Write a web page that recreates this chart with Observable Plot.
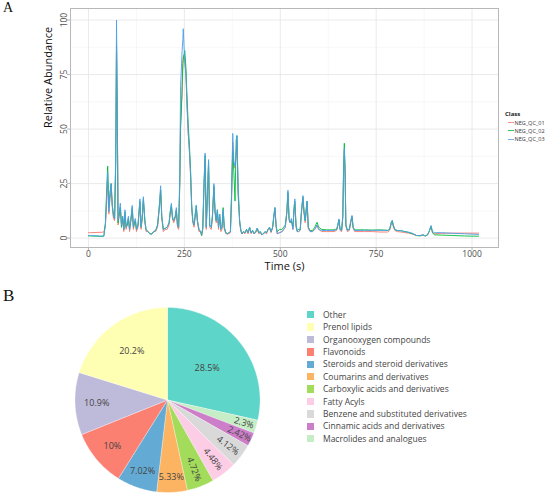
<!DOCTYPE html>
<html><head><meta charset="utf-8">
<script src="https://cdn.jsdelivr.net/npm/d3@7"></script>
<script src="https://cdn.jsdelivr.net/npm/@observablehq/plot@0.6"></script>
<style>
body{margin:0;background:#fff;}
#wrap{position:relative;width:550px;height:495px;overflow:hidden;font-family:"Open Sans",sans-serif;background:#fff;}
#wrap svg{position:absolute;left:0;}
.abs{position:absolute;white-space:nowrap;}
</style></head><body><div id="wrap"></div>
<script>
// ---------- Panel A data ----------
const classNames = ["NEG_QC_01", "NEG_QC_02", "NEG_QC_03"];
const classColors = ["#F8766D", "#00BA38", "#4C9EEB"];
const xTicks = [0, 250, 500, 750, 1000];
const xMinor = [125, 375, 625, 875];
const yTicks = [0, 25, 50, 75, 100];
const yMinor = [12.5, 37.5, 62.5, 87.5];
const times = [
0,5,35,40,44,48,50,53,56,59,
62,65,68,71,73,75,77,80,83,86,
89,92,95,98,101,104,107,110,114,117,
120,122,125,129,134,137,140,143,147,150,
155,160,165,170,175,180,185,188,191,195,
200,205,210,213,216,219,222,226,229,232,
235,238,240,242,244,246,247,249,251,254,
257,260,263,266,269,272,275,278,281,284,
288,292,295,298,301,304,307,310,313,316,
320,323,327,330,333,336,339,342,345,348,
351,354,358,362,366,370,373,376,379,382,
385,387,390,394,397,400,404,408,412,416,
420,424,428,432,436,440,444,448,452,456,
460,464,468,472,476,480,483,486,489,492,
498,505,509,513,517,520,523,526,529,533,
536,538,541,544,548,552,555,559,562,565,
568,570,573,578,584,590,596,600,608,620,
630,640,647,650,653,656,660,663,665,667,
669,671,675,680,684,687,690,694,700,720,
740,760,780,785,789,792,795,799,805,815,
825,835,845,855,865,872,878,884,888,893,
897,902,920,950,980,1000,1017];
const qc01 = [
2.5,2.5,2.7,2.8,6,18,26,11,18,23,
14,9,8,35,90,55,6,10,14,5,
9,3,11,4,6,9,3,7,13,4,
7,8,3,5,16,4,9,17,7,3,
3,2,2,3,3,5,14,22,9,3,
4,4,6,11,14,9,7,9,12,5,
4,25,55,62,65,80,83,84,82,76,
60,48,40,28,13,7,5,9,13,7,
3,3,1.2,4,22,36,4,18,33,5,
4,9,23,11,7,12,4,10,3,4,
12,4,2,2,2,2.5,18,44,33,32,
38,45,22,7,3,2,2.5,2,3.5,2,
4.5,2,3,2,2.5,4,2,2.5,1.5,2,
2.5,2,3.5,4.5,2.5,4.5,9,13,5,2,
2.5,3,4,5,11,20,8,7,8,4,
13,16,5,3,3,3.5,11,18,11,7,
13,16,4,3,3,4,6,4,3,3,
3,3,3.5,5.5,8,3.5,3,9,28,40,
29,5.5,3,3.5,7,9.5,4.5,3,3,3,
3,2.8,2.8,3.5,6,7.5,5,3.5,3,2.8,
2.5,2.3,1.8,1.2,1.2,1.4,1,1.5,3,5,
2.5,2,2.2,2.3,2.3,2.3,2.3];
const qc02 = [
1.0,1.0,0.8,0.9,7,25,33,14,21,25,
15,11,9,35,88,55,7,11,14,5,
10,4,12,5,6,9,4,8,14,5,
7,8,4,6,17,5,9,18,8,4,
3,2,1.8,3,3.5,6,15,22,10,4,
4.5,5,7,12,15,9,8,10,13,6,
5,25,50,57,70,80,82,84,86,78,
64,52,43,32,15,8,6,11,15,8,
4,3,1.2,5,24,38,5,20,35,6,
5,10,24,12,8,13,5,11,4,5,
14,5,2.5,2,2.5,3,20,40,30,17,
45,47,20,8,4,2,3,2.5,4,2.5,
5,2.5,3.5,2,3,4.6,2.5,3,1.5,2,
3,2.5,4,5,3,5,10,14,6,3,
4,4,5,6,12,21,9,7,8,5,
14,17,6,3.5,4,4,12,19,12,8,
14,17,5,3.5,3.5,5,7.3,5,4,3.8,
3.8,3.8,4,6,8.5,4,3.8,10,32,43.5,
31,6,3.8,4,8,10,5,3.8,3.8,3.8,
3.7,3.8,3.6,4,7,8,5.5,3.8,3.5,3.4,
3,2.6,2,1.2,1.0,1.5,1,1.5,3,5.5,
2.5,1.5,1.4,1.2,1.0,0.9,0.9];
const qc03 = [
1.2,1.2,0.9,1.0,6,22,30,12,20,25,
15,10,9,40,100,60,8,12,16,6,
10,4,13,5,7,10,4,8,15,5,
8,9,4,6,18,5,10,19,8,4,
3,2,2,3,3.5,6,16,24,10,4,
4.5,5,7,12,16,10,8,10,14,6,
5,30,70,77,86,91,96,88,80,75,
60,48,40,30,15,8,6,10,15,8,
4,3,1.5,5,25,39,5,20,36,6,
5,10,25,12,8,13,5,11,4,5,
13,5,2.5,2,2.5,3,20,48,35,33,
40,47,25,8,4,2,3,2.5,4,2.5,
5,2.5,3.5,2,3,4.6,2.5,3,1.5,2,
3,2.5,4,5,3,5,10,14,6,2,
2.5,3,4,5,12,22,9,7,9,4,
14,18,6,3,3,4,12,19.5,12,8,
14,17,5,3,3,4,6,4,3.5,3.5,
3.5,3.5,4,6,8.8,4,3.5,10,30,41,
30,6,3.5,4,8,10.4,5,3.5,3.5,3.6,
3.5,3.6,3.5,4,7,8.2,6,4,3.5,3.4,
3,2.7,2.2,1.2,1.2,1.5,1,1.5,3,5.8,
3,2.5,2.5,2.2,2,1.8,1.7];

// ---------- Panel B data ----------
const pieClasses = ["Other","Prenol lipids","Organooxygen compounds","Flavonoids","Steroids and steroid derivatives","Coumarins and derivatives","Carboxylic acids and derivatives","Fatty Acyls","Benzene and substituted derivatives","Cinnamic acids and derivatives","Macrolides and analogues"];
const pieShares = [28.5, 20.2, 10.9, 10, 7.02, 5.33, 4.72, 4.48, 4.12, 2.42, 2.3];
const pieColors = ["#5DD5C8","#FFFFB3","#BEBADA","#FB8072","#63ABD4","#FDB462","#A2DC5A","#FCCDE5","#D9D9D9","#CC7FC8","#C5EDC6"];

const wrap = document.getElementById("wrap");

// ---------- Panel A ----------
const seriesVals = [qc01, qc02, qc03];
const rows = [];
classNames.forEach((c, k) => {
  const n = Math.min(times.length, seriesVals[k].length);
  for (let i = 0; i < n; i++) rows.push({time: times[i], value: seriesVals[k][i], cls: c});
});

const chartA = Plot.plot({
  width: 550, height: 280,
  marginLeft: 70, marginRight: 52, marginTop: 8, marginBottom: 33,
  style: {fontFamily: "'Open Sans', sans-serif", fontSize: "8.5px", background: "white", color: "#4d4d4d"},
  x: {domain: [-47, 1069]},
  y: {domain: [-4.3, 105.3]},
  color: {domain: classNames, range: classColors},
  marks: [
    Plot.gridX({ticks: xMinor, stroke: "#eeeeee", strokeOpacity: 1, strokeWidth: 0.5}),
    Plot.gridY({ticks: yMinor, stroke: "#eeeeee", strokeOpacity: 1, strokeWidth: 0.5}),
    Plot.gridX({ticks: xTicks, stroke: "#e4e4e4", strokeOpacity: 1, strokeWidth: 0.8}),
    Plot.gridY({ticks: yTicks, stroke: "#e4e4e4", strokeOpacity: 1, strokeWidth: 0.8}),
    Plot.line(rows, {x: "time", y: "value", z: "cls", stroke: "cls", strokeWidth: 1, strokeOpacity: 0.9}),
    Plot.frame({stroke: "#b8b8b8", strokeWidth: 1}),
    Plot.axisX({ticks: xTicks, tickFormat: d => String(d), tickSize: 3, tickPadding: 0, stroke: "#b8b8b8", fill: "#4d4d4d", label: null}),
    Plot.axisY({ticks: yTicks, tickFormat: d => String(d), tickSize: 3, tickPadding: 1, tickRotate: -90, stroke: "#b8b8b8", fill: "#4d4d4d", label: null}),
    Plot.text(["Relative Abundance"], {text: d => d, frameAnchor: "left", dx: -22, rotate: -90, fontSize: 11, fill: "#111"}),
    Plot.text(["Time (s)"], {text: d => d, frameAnchor: "bottom", dy: 22.5, fontSize: 11, fill: "#111"})
  ]
});
chartA.style.top = "0px";
wrap.appendChild(chartA);

// ---------- Panel B ----------
const total = d3.sum(pieShares);
const order = [0].concat(d3.range(pieShares.length - 1, 0, -1)); // clockwise from 12 o'clock
const verts = [];
const labels = [];
let acc = 0;
for (const idx of order) {
  const a0 = acc, a1 = acc + pieShares[idx] / total * 2 * Math.PI;
  acc = a1;
  const cls = pieClasses[idx];
  verts.push({x: 0, y: 0, cls});
  const n = Math.max(2, Math.ceil((a1 - a0) / (Math.PI / 180)) + 1);
  for (let j = 0; j <= n; j++) {
    const a = a0 + (a1 - a0) * j / n;
    verts.push({x: Math.sin(a), y: Math.cos(a), cls});
  }
  verts.push({x: 0, y: 0, cls});
  const mid = (a0 + a1) / 2;
  const pct = pieShares[idx];
  const small = pct < 5;
  const r = small ? 0.92 - 0.025 * pct : 0.9 - 0.0123 * pct;
  labels.push({x: r * Math.sin(mid), y: r * Math.cos(mid), label: pct + "%", rot: small ? mid * 180 / Math.PI - 90 : 0});
}

const chartB = Plot.plot({
  width: 550, height: 215,
  marginLeft: 74.5, marginRight: 290.5, marginTop: 27, marginBottom: 3,
  style: {fontFamily: "'Open Sans', sans-serif", background: "transparent"},
  x: {domain: [-1, 1], axis: null},
  y: {domain: [-1, 1], axis: null},
  color: {domain: pieClasses, range: pieColors},
  marks: [
    Plot.line(verts, {x: "x", y: "y", z: "cls", fill: "cls", stroke: "white", strokeWidth: 0.3, curve: "linear"}),
    Plot.text(labels, {x: "x", y: "y", text: "label", rotate: "rot", fontSize: 9, fill: "#444"})
  ]
});
chartB.style.top = "280px";
wrap.appendChild(chartB);

// ---------- Labels & legends (HTML) ----------
function addDiv(html, css) {
  const d = document.createElement("div");
  d.className = "abs";
  d.innerHTML = html;
  Object.assign(d.style, css);
  wrap.appendChild(d);
  return d;
}
addDiv("A", {left: "3px", top: "0px", fontFamily: "'Liberation Serif', serif", fontSize: "14px", lineHeight: "16px", color: "#111"});
addDiv("B", {left: "3px", top: "286px", fontFamily: "'Liberation Serif', serif", fontSize: "17px", lineHeight: "19px", color: "#111"});

// Legend A
addDiv("Class", {left: "505px", top: "110px", fontSize: "6px", lineHeight: "8px", fontWeight: "bold", color: "#222"});
classNames.forEach((c, i) => {
  const y = 122.7 + i * 8.2;
  addDiv("", {left: "508px", top: (y - 0.5) + "px", width: "6px", height: "1px", background: classColors[i], opacity: 0.8});
  addDiv(c, {left: "514.5px", top: (y - 4) + "px", fontSize: "5.5px", lineHeight: "8px", color: "#333"});
});

// Legend B
pieClasses.forEach((c, i) => {
  const y = 314.7 + i * 12.4;
  addDiv("", {left: "306.5px", top: (y - 3.7) + "px", width: "7.4px", height: "7.4px", background: pieColors[i]});
  addDiv(c, {left: "323px", top: (y - 6) + "px", fontSize: "8.5px", lineHeight: "12px", color: "#444"});
});
</script></body></html>
